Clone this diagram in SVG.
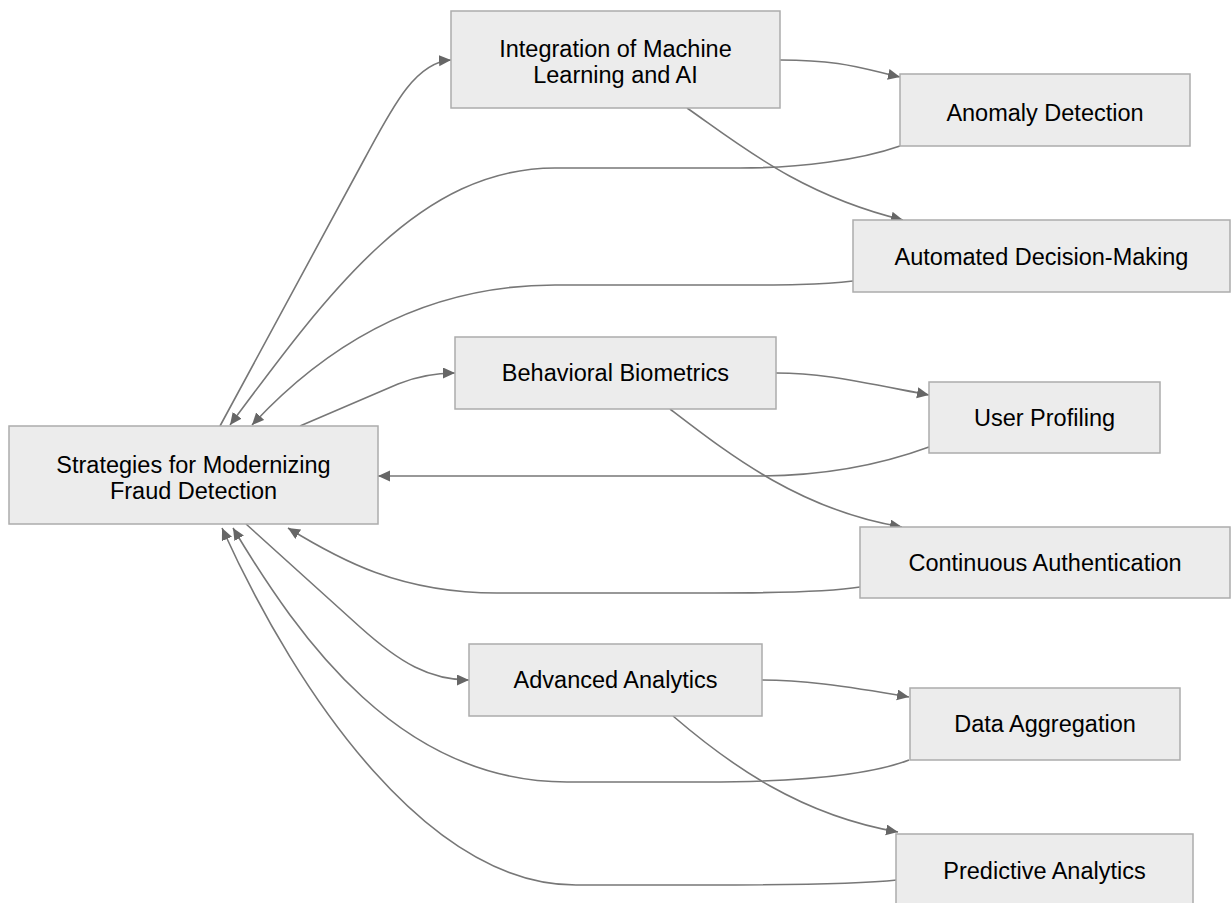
<svg xmlns="http://www.w3.org/2000/svg" width="1232" height="903" viewBox="0 0 1232 903">
<style>
.node rect{fill:#ececec;stroke:#acacac;stroke-width:1.5}
.node text{font-family:"Liberation Sans",Arial,sans-serif;font-size:23.5px;fill:#000;text-anchor:middle}
.edges path{fill:none;stroke:#777;stroke-width:1.6}
</style>
<defs>
<marker id="arr" markerUnits="userSpaceOnUse" markerWidth="14" markerHeight="13" refX="12" refY="5.5" orient="auto">
<path d="M0,0 L12,5.5 L0,11 z" fill="#666"/>
</marker>
</defs>
<rect width="1232" height="903" fill="#fff"/>
<g class="edges">
<path d="M220,426 L365,158 C392,108 415,62 451,60" marker-end="url(#arr)"/>
<path d="M780,60 C840,60 860,68 900,77" marker-end="url(#arr)"/>
<path d="M687,108 C740,145 800,195 903,220" marker-end="url(#arr)"/>
<path d="M900,146 C860,160 800,168 740,168 L555,168 C420,168 330,290 230,425" marker-end="url(#arr)"/>
<path d="M853,281 C820,285 780,285 740,285 L555,285 C440,285 340,330 252,425" marker-end="url(#arr)"/>
<path d="M300,426 L398,384 Q425,373 455,373" marker-end="url(#arr)"/>
<path d="M776,373 C820,373 850,380 929,395" marker-end="url(#arr)"/>
<path d="M670,409 C730,455 800,510 902,527" marker-end="url(#arr)"/>
<path d="M929,447 C880,465 820,476 757,476 L378,476" marker-end="url(#arr)"/>
<path d="M860,587 C830,592 780,593 714,593 L497,593 C400,593 340,560 288,528" marker-end="url(#arr)"/>
<path d="M246,524 L360,627 C400,663 430,680 469,680" marker-end="url(#arr)"/>
<path d="M762,680 C800,680 840,685 909,697" marker-end="url(#arr)"/>
<path d="M673,716 C730,765 800,815 898,832" marker-end="url(#arr)"/>
<path d="M909,760 C870,775 800,782 705,782 L567,782 C400,782 300,640 233,528" marker-end="url(#arr)"/>
<path d="M897,880 C860,884 800,885 705,885 L576,885 C430,885 300,700 222,528" marker-end="url(#arr)"/>
</g>
<g id="strategies" class="node"><rect x="9" y="426" width="369" height="98"/><text x="193.5" y="473">Strategies for Modernizing</text><text x="193.5" y="499">Fraud Detection</text></g>
<g id="integration" class="node"><rect x="451" y="11" width="329" height="97"/><text x="615.5" y="57">Integration of Machine</text><text x="615.5" y="83">Learning and AI</text></g>
<g id="anomaly" class="node"><rect x="900" y="74" width="290" height="72"/><text x="1045" y="121">Anomaly Detection</text></g>
<g id="automated" class="node"><rect x="853" y="220" width="377" height="72"/><text x="1041.5" y="265">Automated Decision-Making</text></g>
<g id="behavioral" class="node"><rect x="455" y="337" width="321" height="72"/><text x="615.5" y="381">Behavioral Biometrics</text></g>
<g id="userprofiling" class="node"><rect x="929" y="382" width="231" height="71"/><text x="1044.5" y="426">User Profiling</text></g>
<g id="continuous" class="node"><rect x="860" y="527" width="370" height="71"/><text x="1045" y="571">Continuous Authentication</text></g>
<g id="advanced" class="node"><rect x="469" y="644" width="293" height="72"/><text x="615.5" y="688">Advanced Analytics</text></g>
<g id="dataagg" class="node"><rect x="910" y="688" width="270" height="72"/><text x="1045" y="732">Data Aggregation</text></g>
<g id="predictive" class="node"><rect x="896" y="834" width="297" height="72"/><text x="1044.5" y="879">Predictive Analytics</text></g>
</svg>
